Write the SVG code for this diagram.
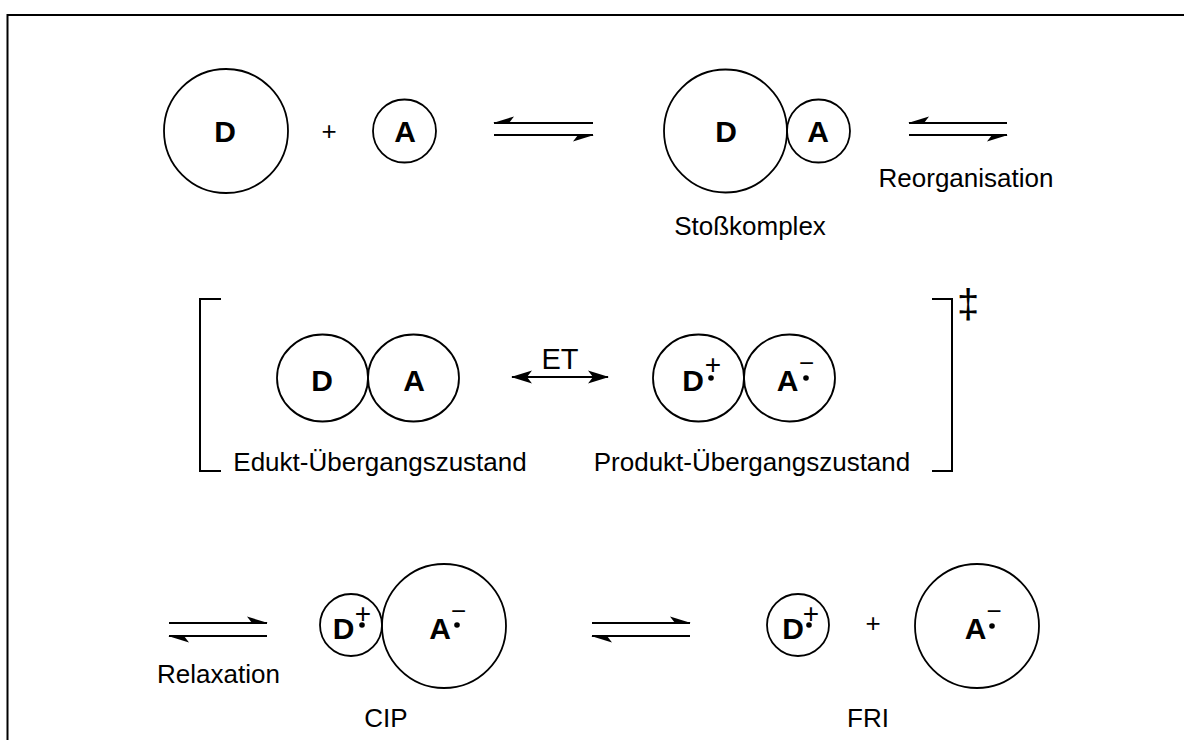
<svg xmlns="http://www.w3.org/2000/svg" width="1184" height="740" viewBox="0 0 1184 740">
<style>
.c{fill:none;stroke:#000;stroke-width:1.8}
.ln{fill:none;stroke:#000;stroke-width:2}
.dot{fill:#000}
.b{font-family:"Liberation Sans",Arial,sans-serif;font-weight:bold;font-size:30px;text-anchor:middle;fill:#000}
.t{font-family:"Liberation Sans",Arial,sans-serif;font-size:26px;text-anchor:middle;fill:#000}
.s{font-weight:normal;font-size:28px}
.m{font-weight:normal;font-size:26px}
</style>
<defs>
<marker id="hR" markerUnits="userSpaceOnUse" viewBox="-22 -8 24 16" markerWidth="24" markerHeight="16" refX="0" refY="0" orient="auto"><path d="M1,0 L-20,6.5 L-15,0 Z" fill="#000"/></marker>
<marker id="hL" markerUnits="userSpaceOnUse" viewBox="-22 -8 24 16" markerWidth="24" markerHeight="16" refX="0" refY="0" orient="auto"><path d="M1,0 L-20,-6.5 L-15,0 Z" fill="#000"/></marker>
<marker id="st" markerUnits="userSpaceOnUse" viewBox="-22 -8 24 16" markerWidth="24" markerHeight="16" refX="0" refY="0" orient="auto-start-reverse"><path d="M1,0 L-20,-6.5 L-15,0 L-20,6.5 Z" fill="#000"/></marker>
</defs>
<rect x="7.5" y="15" width="1300" height="900" fill="none" stroke="#000" stroke-width="2"/>

<g id="reactants">
<circle class="c" cx="226" cy="131" r="62"/>
<text class="b" x="225" y="142">D</text>
<text class="t" x="329" y="140">+</text>
<circle class="c" cx="404.5" cy="131" r="31.5"/>
<text class="b" x="405" y="142">A</text>
</g>

<g id="stosskomplex">
<circle class="c" cx="725.5" cy="131" r="61.5"/>
<circle class="c" cx="818.5" cy="131" r="31.5"/>
<text class="b" x="726" y="142">D</text>
<text class="b" x="818" y="142">A</text>
<text class="t" x="750" y="235">Stoßkomplex</text>
</g>

<g id="edukt-ts">
<ellipse class="c" cx="322.5" cy="378" rx="45.5" ry="43.5"/>
<ellipse class="c" cx="413.5" cy="378" rx="45.5" ry="43.5"/>
<text class="b" x="322" y="391">D</text>
<text class="b" x="414" y="391">A</text>
<text class="t" x="380" y="471">Edukt-Übergangszustand</text>
</g>

<g id="produkt-ts">
<ellipse class="c" cx="698.5" cy="378" rx="45.5" ry="43.5"/>
<ellipse class="c" cx="789.5" cy="378" rx="45.5" ry="43.5"/>
<text class="b"><tspan x="693" y="391">D</tspan><tspan class="s" x="713" y="374">+</tspan></text>
<circle class="dot" cx="711" cy="378" r="2.8"/>
<text class="b"><tspan x="787.5" y="391">A</tspan><tspan class="m" x="806.5" y="372">−</tspan></text>
<circle class="dot" cx="806" cy="378" r="2.8"/>
<text class="t" x="752" y="471">Produkt-Übergangszustand</text>
</g>

<g id="brackets">
<path class="ln" d="M221,299 H200 V471 H221"/>
<path class="ln" d="M932,299 H952 V471 H932"/>
<text class="t" x="968" y="318" style="font-size:40px">‡</text>
</g>

<g id="cip">
<circle class="c" cx="351" cy="625" r="31"/>
<circle class="c" cx="444" cy="626" r="62"/>
<text class="b"><tspan x="343.5" y="639">D</tspan><tspan class="s" x="363" y="623">+</tspan></text>
<circle class="dot" cx="362" cy="625" r="2.8"/>
<text class="b"><tspan x="440" y="639">A</tspan><tspan class="m" x="458.5" y="620">−</tspan></text>
<circle class="dot" cx="457" cy="625" r="2.8"/>
<text class="t" x="386" y="727">CIP</text>
</g>

<g id="fri">
<circle class="c" cx="798" cy="625" r="31"/>
<text class="b"><tspan x="793" y="639">D</tspan><tspan class="s" x="811" y="623">+</tspan></text>
<circle class="dot" cx="809" cy="625" r="2.8"/>
<text class="t" x="873" y="632">+</text>
<circle class="c" cx="977" cy="626" r="62"/>
<text class="b"><tspan x="975.5" y="639">A</tspan><tspan class="m" x="994" y="620">−</tspan></text>
<circle class="dot" cx="992" cy="626" r="2.8"/>
<text class="t" x="868" y="727">FRI</text>
</g>

<g id="connectors">
<line class="ln" x1="593" y1="123" x2="494" y2="123" marker-end="url(#hR)"/>
<line class="ln" x1="494" y1="135" x2="593" y2="135" marker-end="url(#hR)"/>
<line class="ln" x1="1007" y1="123" x2="909" y2="123" marker-end="url(#hR)"/>
<line class="ln" x1="909" y1="135" x2="1007" y2="135" marker-end="url(#hR)"/>
<text class="t" x="966" y="187">Reorganisation</text>
<line class="ln" x1="512" y1="377" x2="608" y2="377" marker-start="url(#st)" marker-end="url(#st)"/>
<text class="t" x="560" y="369" style="font-size:29px">ET</text>
<line class="ln" x1="169" y1="623" x2="267" y2="623" marker-end="url(#hL)"/>
<line class="ln" x1="267" y1="636" x2="169" y2="636" marker-end="url(#hL)"/>
<text class="t" x="218.5" y="683">Relaxation</text>
<line class="ln" x1="592" y1="623" x2="690" y2="623" marker-end="url(#hL)"/>
<line class="ln" x1="690" y1="636" x2="592" y2="636" marker-end="url(#hL)"/>
</g>
</svg>
